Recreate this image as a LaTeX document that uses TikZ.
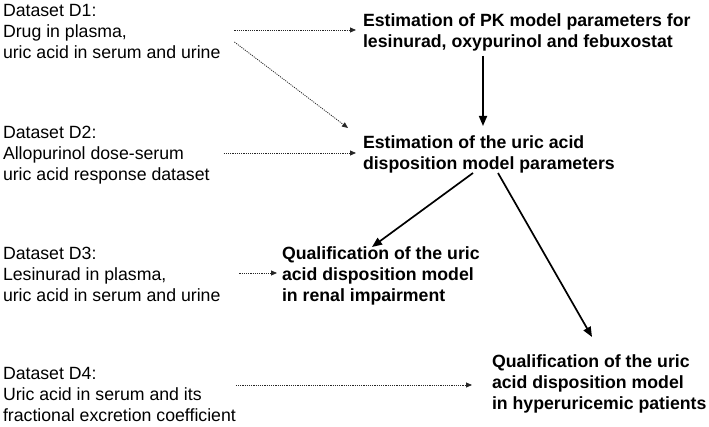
\documentclass[tikz,border=0pt]{standalone}
\usepackage{fontspec}
\setmainfont{Liberation Sans}
\usetikzlibrary{arrows.meta}
\begin{document}
\begin{tikzpicture}[x=1pt,y=-1pt,
  txt/.style={anchor=west,inner sep=0pt,outer sep=0pt,align=left,
    font=\fontsize{17.7}{21}\selectfont},
  btxt/.style={txt,font=\fontsize{17.7}{21}\selectfont\bfseries},
  dotarr/.style={draw=black!85,line width=0.8pt,dash pattern=on 1.1pt off 1.1pt,
    -{Triangle[length=6pt,width=5pt]}},
  solarr/.style={draw=black,line width=1.7pt,
    -{Triangle[length=10pt,width=8pt]}}]
\useasboundingbox (0,0) rectangle (709,427);
\node[txt] (d1) at (3,33) {\strut Dataset D1:\\\strut Drug in plasma,\\\strut uric acid in serum and urine};
\node[txt] (d2) at (3,155) {\strut Dataset D2:\\\strut Allopurinol dose-serum\\\strut uric acid response dataset};
\node[txt] (d3) at (3,276) {\strut Dataset D3:\\\strut Lesinurad in plasma,\\\strut uric acid in serum and urine};
\node[txt,anchor=north west] (d4) at (3,365) {\strut Dataset D4:\\\strut Uric acid in serum and its\\\strut fractional excretion coefficient\rule{0pt}{0pt}};
\node[btxt] (pk) at (363,33) {\strut Estimation of PK model parameters for\\\strut lesinurad, oxypurinol and febuxostat};
\node[btxt] (ua) at (363,155) {\strut Estimation of the uric acid\\\strut disposition model parameters};
\node[btxt] (ri) at (282,276) {\strut Qualification of the uric\\\strut acid disposition model\\\strut in renal impairment};
\node[btxt] (hu) at (492,384) {\strut Qualification of the uric\\\strut acid disposition model\\\strut in hyperuricemic patients};
\draw[dotarr] ([shift={(14pt,3pt)}]d1.east) -- ([shift={(-7pt,3pt)}]pk.west);
\draw[dotarr] ([shift={(14pt,-9pt)}]d1.east) -- ([shift={(-15pt,6pt)}]ua.north west);
\draw[dotarr] ([shift={(14pt,2pt)}]d2.east) -- ([shift={(-7pt,2pt)}]ua.west);
\draw[dotarr] ([shift={(19pt,3pt)}]d3.east) -- ([shift={(-5pt,3pt)}]ri.west);
\draw[dotarr] ([shift={(0pt,-20pt)}]d4.north east) -- ([shift={(-20pt,-1pt)}]hu.west);
\draw[solarr] ([shift={(120pt,-2pt)}]pk.south west) -- ([shift={(120pt,8pt)}]ua.north west);
\draw[solarr] ([shift={(110pt,3pt)}]ua.south west) -- ([shift={(90pt,-2.5pt)}]ri.north west);
\draw[solarr] ([shift={(135pt,3pt)}]ua.south west) -- ([shift={(100pt,15.5pt)}]hu.north west);
\end{tikzpicture}
\end{document}
